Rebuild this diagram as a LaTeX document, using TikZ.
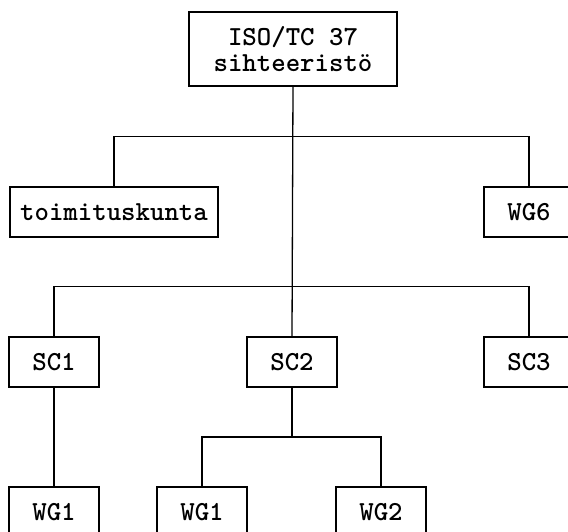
\documentclass[tikz,border=0pt]{standalone}
\usepackage{fontspec}
\tikzset{
  orgbox/.style={draw, line width=1.3pt, inner sep=0pt, minimum width=90pt, minimum height=50pt,
    font=\ttfamily\bfseries\fontsize{27.5}{26}\selectfont, align=center},
  link/.style={line width=1.3pt}
}
\begin{document}
\begin{tikzpicture}[x=1pt,y=1pt]
    \useasboundingbox (0,0) rectangle (568,-531);
    \clip (0,0) rectangle (568,-531);
    \node[orgbox, minimum width=208pt, minimum height=74pt] (sihteeristo) at (293,-49) {ISO/TC 37\\sihteeristö};
    \node[orgbox, minimum width=208pt] (toimitus) at (114,-212) {toimituskunta};
    \node[orgbox] (wg6) at (529,-212) {WG6};
    \node[orgbox] (sc1) at (54,-362) {SC1};
    \node[orgbox] (sc2) at (292,-362) {SC2};
    \node[orgbox] (sc3) at (529,-362) {SC3};
    \node[orgbox] (sc1wg1) at (54,-512) {WG1};
    \node[orgbox] (sc2wg1) at (202,-512) {WG1};
    \node[orgbox] (sc2wg2) at (381,-512) {WG2};
    \coordinate (haara) at (292,-437);
    \draw[link] (sihteeristo.south) -- (sc2.north);
    \draw[link] (toimitus.north) -- ++(0,50) -| (wg6.north);
    \draw[link] (sc1.north) -- ++(0,50) -| (sc3.north);
    \draw[link] (sc1.south) -- (sc1wg1.north);
    \draw[link] (sc2.south) -- (haara);
    \draw[link] (sc2wg1.north) |- (haara) -| (sc2wg2.north);
\end{tikzpicture}
\end{document}
